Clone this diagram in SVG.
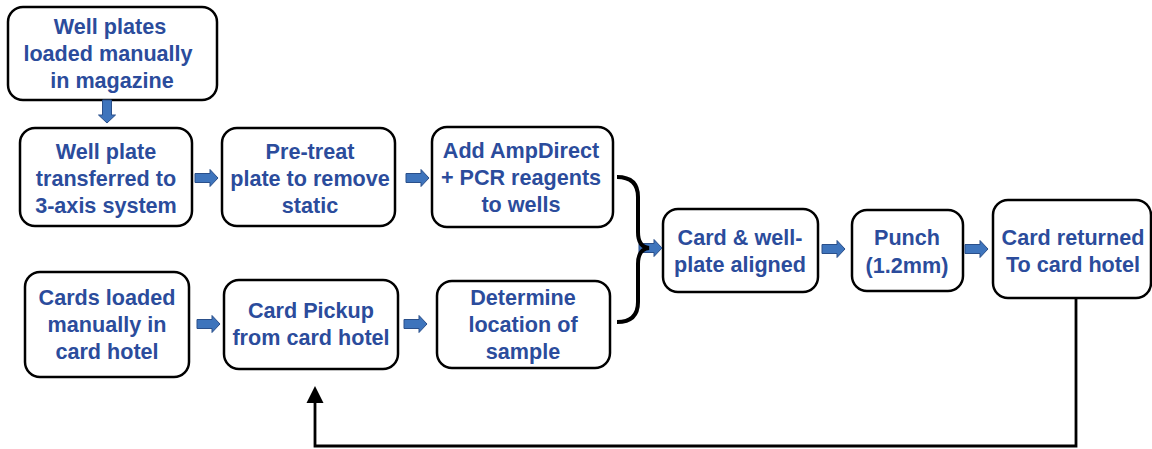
<svg xmlns="http://www.w3.org/2000/svg" xmlns:xlink="http://www.w3.org/1999/xlink" width="1152" height="449" viewBox="0 0 1152 449">
<style>
.box{fill:#fff;stroke:#000;stroke-width:2.5}
.t{font-family:"Liberation Sans",Arial,sans-serif;font-weight:bold;font-size:21.6px;fill:#2B4C9C;text-anchor:middle}
.ba{fill:#3E74BC;stroke:#2A4F8A;stroke-width:1}
.ln{fill:none;stroke:#000;stroke-width:2.8}
.brace{fill:none;stroke:#000;stroke-width:4}
</style>
<defs>
<path id="barrow" d="M0,-4.5 L15,-4.5 L15,-8.5 L23,0 L15,8.5 L15,4.5 L0,4.5 Z"/>
</defs>
<rect width="1152" height="449" fill="#fff"/>

<g id="n1"><rect class="box" x="8" y="7" width="209" height="93" rx="15"/>
<text class="t" x="110" y="34">Well plates</text><text class="t" x="108" y="61">loaded manually</text><text class="t" x="112" y="88">in magazine</text></g>

<g id="n2"><rect class="box" x="20" y="128" width="172" height="98" rx="15"/>
<text class="t" x="106" y="159">Well plate</text><text class="t" x="106" y="186">transferred to</text><text class="t" x="106" y="213">3-axis system</text></g>

<g id="n3"><rect class="box" x="222" y="128" width="173" height="98" rx="15"/>
<text class="t" x="310" y="159">Pre-treat</text><text class="t" x="310" y="186">plate to remove</text><text class="t" x="310" y="213">static</text></g>

<g id="n4"><rect class="box" x="432" y="127" width="181" height="100" rx="15"/>
<text class="t" x="521" y="158">Add AmpDirect</text><text class="t" x="521" y="185">+ PCR reagents</text><text class="t" x="521" y="212">to wells</text></g>

<g id="n5"><rect class="box" x="25" y="272" width="164" height="105" rx="15"/>
<text class="t" x="107" y="305">Cards loaded</text><text class="t" x="107" y="332">manually in</text><text class="t" x="107" y="359">card hotel</text></g>

<g id="n6"><rect class="box" x="224" y="280" width="174" height="89" rx="15"/>
<text class="t" x="311" y="318">Card Pickup</text><text class="t" x="311" y="345">from card hotel</text></g>

<g id="n7"><rect class="box" x="437" y="281" width="173" height="87" rx="15"/>
<text class="t" x="523" y="305">Determine</text><text class="t" x="523" y="332">location of</text><text class="t" x="523" y="359">sample</text></g>

<g id="n8"><rect class="box" x="663" y="209" width="155" height="83" rx="15"/>
<text class="t" x="740" y="245">Card &amp; well-</text><text class="t" x="740" y="272">plate aligned</text></g>

<g id="n9"><rect class="box" x="852" y="210" width="111" height="81" rx="15"/>
<text class="t" x="907" y="245">Punch</text><text class="t" x="907" y="273">(1.2mm)</text></g>

<g id="n10"><rect class="box" x="993" y="200" width="158" height="98" rx="15"/>
<text class="t" x="1073" y="245">Card returned</text><text class="t" x="1073" y="272">To card hotel</text></g>

<g id="connectors">
<use href="#barrow" class="ba" transform="translate(107,100) rotate(90)"/>
<use href="#barrow" class="ba" transform="translate(195,178)"/>
<use href="#barrow" class="ba" transform="translate(406,178)"/>
<use href="#barrow" class="ba" transform="translate(197,324)"/>
<use href="#barrow" class="ba" transform="translate(404,324)"/>
<use href="#barrow" class="ba" transform="translate(639,248)"/>
<use href="#barrow" class="ba" transform="translate(822,249)"/>
<use href="#barrow" class="ba" transform="translate(965,249)"/>
<path class="brace" d="M617,177 Q638,177 638,197 L638,232 Q638,247 649,248 Q638,249 638,264 L638,302 Q638,322 617,322"/>
<path class="ln" d="M1076,298 L1076,446 L315,446 L315,402"/>
<path d="M306.5,403 L315,386 L323.5,403 Z" fill="#000"/>
</g>
</svg>
